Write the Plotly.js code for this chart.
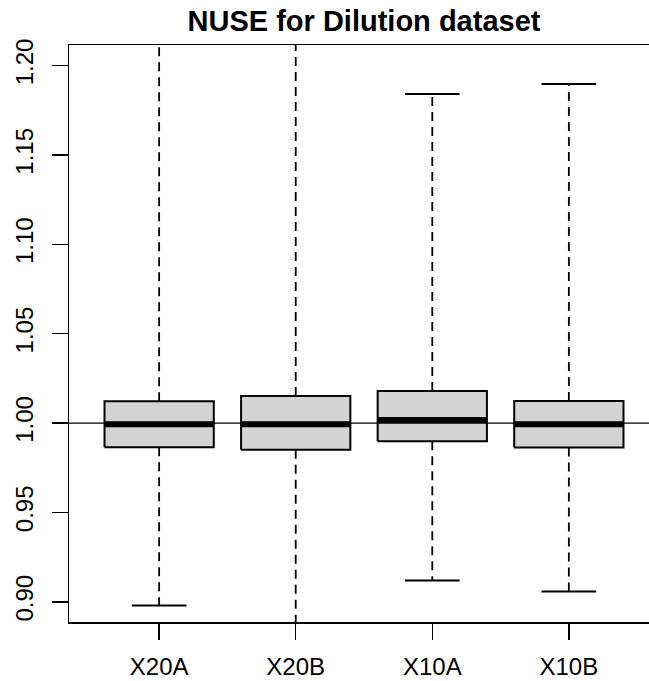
<!DOCTYPE html>
<html>
<head>
<meta charset="utf-8">
<script src="https://cdn.plot.ly/plotly-3.0.1.min.js"></script>
<style>
html,body{margin:0;padding:0;overflow:hidden;background:#fff;}
#chart{width:680px;height:681px;}
</style>
</head>
<body>
<div id="chart"></div>
<script>
// Data
const categories = ["X20A", "X20B", "X10A", "X10B"];
const lowerWhisker = [0.8979, 0.8800, 0.9119, 0.9058];
const q1Values = [0.9865, 0.9851, 0.9898, 0.9863];
const medianValues = [0.9993, 0.9993, 1.0017, 0.9993];
const q3Values = [1.0122, 1.0151, 1.0179, 1.0124];
const upperWhisker = [1.2500, 1.2400, 1.1841, 1.1897];
const referenceLine = 1.0;
const yTickValues = [0.90, 0.95, 1.00, 1.05, 1.10, 1.15, 1.20];

const positions = categories.map((c, i) => i + 1);
const halfBox = 0.4, halfCap = 0.2;
const font = "Liberation Sans, Arial, Helvetica, sans-serif";

const traces = [];

// whiskers (dashed)
const wx = [], wy = [];
positions.forEach((p, i) => {
  wx.push(p, p, null, p, p, null);
  wy.push(q3Values[i], upperWhisker[i], null, q1Values[i], lowerWhisker[i], null);
});
traces.push({type: "scatter", mode: "lines", x: wx, y: wy, hoverinfo: "skip",
  line: {color: "#000", width: 1.8, dash: "9px,6px"}, connectgaps: false});

// staples
const sx = [], sy = [];
positions.forEach((p, i) => {
  sx.push(p - halfCap, p + halfCap, null, p - halfCap, p + halfCap, null);
  sy.push(upperWhisker[i], upperWhisker[i], null, lowerWhisker[i], lowerWhisker[i], null);
});
traces.push({type: "scatter", mode: "lines", x: sx, y: sy, hoverinfo: "skip",
  line: {color: "#000", width: 2}, connectgaps: false});

// boxes
positions.forEach((p, i) => {
  traces.push({type: "scatter", mode: "lines", fill: "toself", fillcolor: "#d3d3d3",
    x: [p - halfBox, p + halfBox, p + halfBox, p - halfBox, p - halfBox],
    y: [q1Values[i], q1Values[i], q3Values[i], q3Values[i], q1Values[i]],
    line: {color: "#000", width: 2}, hoverinfo: "skip"});
});

// medians
const mx = [], my = [];
positions.forEach((p, i) => {
  mx.push(p - halfBox, p + halfBox, null);
  my.push(medianValues[i], medianValues[i], null);
});
traces.push({type: "scatter", mode: "lines", x: mx, y: my, hoverinfo: "skip",
  line: {color: "#000", width: 6}, connectgaps: false});

const layout = {
  width: 680, height: 681,
  margin: {l: 69, r: 21, t: 45, b: 59, pad: 0},
  paper_bgcolor: "#fff", plot_bgcolor: "#fff",
  showlegend: false,
  font: {family: font, color: "#000", size: 24},
  title: {text: "<b>NUSE for Dilution dataset</b>", font: {family: font, size: 29, color: "#000"},
    xref: "paper", x: 0.5, xanchor: "center", yref: "container", y: 0.969, yanchor: "middle"},
  xaxis: {range: [0.34, 4.66], tickvals: positions, ticktext: categories,
    showgrid: false, zeroline: false, showline: true, mirror: true, linecolor: "#000", linewidth: 1.5,
    ticks: "outside", ticklen: 16, tickwidth: 1.5, tickcolor: "#000",
    tickfont: {family: font, size: 24, color: "#000"}, ticklabelstandoff: 7},
  yaxis: {range: [0.8887, 1.2115], tickvals: yTickValues, tickformat: ".2f",
    showgrid: false, zeroline: false, showline: true, mirror: true, linecolor: "#000", linewidth: 1.5,
    ticks: "outside", ticklen: 16, tickwidth: 1.5, tickcolor: "#000", tickangle: -90,
    tickfont: {family: font, size: 24, color: "#000"}, ticklabelstandoff: 9},
  shapes: [{type: "line", xref: "paper", x0: 0, x1: 1, yref: "y", y0: referenceLine, y1: referenceLine,
    line: {color: "#000", width: 1.3}, layer: "above"}]
};

Plotly.newPlot("chart", traces, layout, {staticPlot: true, displayModeBar: false});
</script>
</body>
</html>
